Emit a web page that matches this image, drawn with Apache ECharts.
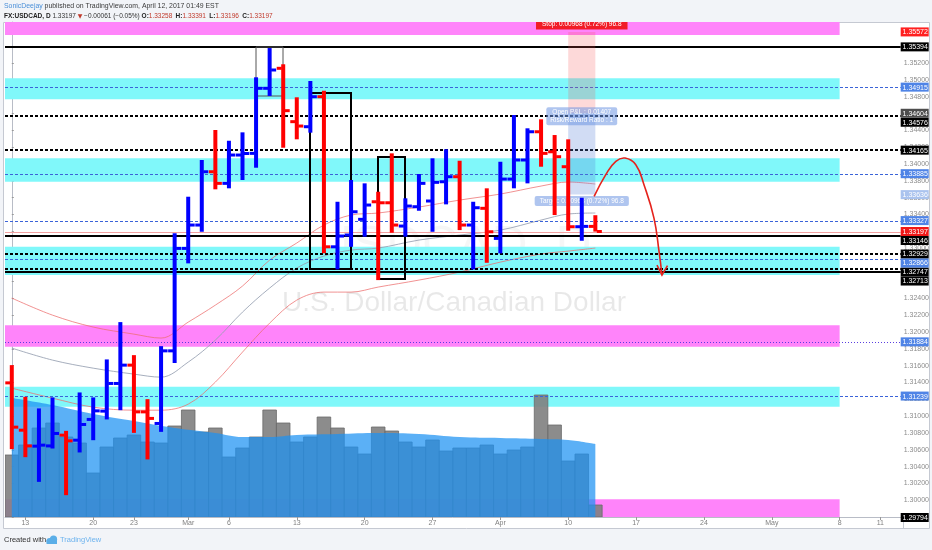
<!DOCTYPE html>
<html><head><meta charset="utf-8">
<script src="https://cdn.jsdelivr.net/npm/echarts@6/dist/echarts.min.js"></script>
<style>html,body{margin:0;padding:0;background:#f2f4f8;}#c{width:932px;height:550px;}</style>
</head><body><div id="c"></div>
<script>
// ---------- DATA ----------
const dates = ['2017-02-10',
 '2017-02-13','2017-02-14','2017-02-15','2017-02-16','2017-02-17',
 '2017-02-20','2017-02-21','2017-02-22','2017-02-23','2017-02-24',
 '2017-02-27','2017-02-28','2017-03-01','2017-03-02','2017-03-03',
 '2017-03-06','2017-03-07','2017-03-08','2017-03-09','2017-03-10',
 '2017-03-13','2017-03-14','2017-03-15','2017-03-16','2017-03-17',
 '2017-03-20','2017-03-21','2017-03-22','2017-03-23','2017-03-24',
 '2017-03-27','2017-03-28','2017-03-29','2017-03-30','2017-03-31',
 '2017-04-03','2017-04-04','2017-04-05','2017-04-06','2017-04-07',
 '2017-04-10','2017-04-11','2017-04-12','2017-04-13','2017-04-14',
 '2017-04-17','2017-04-18','2017-04-19','2017-04-20','2017-04-21',
 '2017-04-24','2017-04-25','2017-04-26','2017-04-27','2017-04-28',
 '2017-05-01','2017-05-02','2017-05-03','2017-05-04','2017-05-05',
 '2017-05-08','2017-05-09','2017-05-10','2017-05-11','2017-05-12'];
const tickDates = ['2017-02-13','2017-02-20','2017-02-23','2017-03-01','2017-03-06','2017-03-13','2017-03-20','2017-03-27','2017-04-03','2017-04-10','2017-04-17','2017-04-24','2017-05-01','2017-05-08','2017-05-11'];
const tickTexts = ['13','20','23','Mar','6','13','20','27','Apr','10','17','24','May','8','11'];

const opens  = [1.31396,1.30833,1.30643,1.30646,1.30774,1.30714,1.30961,1.31060,1.31389,1.31607,1.31051,1.30913,1.31777,1.32996,1.33274,1.33908,1.33770,1.34107,1.34127,1.34901,1.35139,1.34504,1.34444,1.34801,1.33015,1.33155,1.33342,1.33551,1.33539,1.33262,1.33492,1.33560,1.33789,1.33849,1.33274,1.33473,1.33115,1.33821,1.34048,1.34384,1.34146,1.33968,1.33254,1.33258];
const highs  = [1.31607,1.31230,1.31092,1.31223,1.30825,1.31282,1.31223,1.31675,1.32119,1.31726,1.31202,1.31833,1.33175,1.33611,1.34048,1.34405,1.34277,1.34377,1.35032,1.35380,1.35187,1.34794,1.34988,1.34873,1.33551,1.33810,1.33770,1.33670,1.34127,1.33592,1.33881,1.34068,1.34175,1.34039,1.33551,1.33711,1.34027,1.34583,1.34425,1.34532,1.34345,1.34294,1.33599,1.33391];
const lows   = [1.30607,1.30512,1.30218,1.30615,1.30060,1.30568,1.30714,1.30961,1.31071,1.30801,1.30485,1.30813,1.31631,1.32818,1.33194,1.33699,1.33711,1.33810,1.33956,1.34810,1.34194,1.34294,1.34373,1.32937,1.32746,1.33015,1.33135,1.32619,1.33182,1.33135,1.33444,1.33194,1.33520,1.33214,1.32746,1.32825,1.32937,1.33711,1.33770,1.33968,1.33393,1.33206,1.33087,1.33196];
const closes = [1.30869,1.30646,1.30655,1.30794,1.30706,1.30901,1.31063,1.31389,1.31607,1.31051,1.30973,1.31777,1.32996,1.33274,1.33908,1.33770,1.34107,1.34125,1.34901,1.35119,1.34635,1.34452,1.34801,1.33015,1.33143,1.33432,1.33512,1.33539,1.33274,1.33500,1.33770,1.33782,1.33849,1.33274,1.33480,1.33194,1.33821,1.34048,1.34384,1.34127,1.34087,1.33254,1.33258,1.33197];
const volumes = [62,72,89,94,80,74,44,70,79,82,75,74,91,107,85,89,60,69,80,107,94,75,80,100,89,70,63,90,86,75,70,77,66,69,69,72,63,67,70,122,92,56,63,12];

const volMaIdx = [0,3,6,9,12,15,17,19,21,24,27,30,33,36,39,41,43];
const volMa    = [119,112,103,96,89,84,80,80,82,83,84,83,80,79,78,77,73];

const maIdx  = [0,3,6,9,11,13,15,17,19,21,23,25,27,30,33,36,39,41,43];
const maFast = [1.32405,1.32202,1.32060,1.31976,1.31929,1.32119,1.32321,1.32548,1.32857,1.33060,1.33274,1.33393,1.33417,1.33488,1.33571,1.33643,1.33738,1.33786,1.33762];
const maMid  = [1.31810,1.31667,1.31571,1.31500,1.31464,1.31643,1.31905,1.32238,1.32524,1.32762,1.32905,1.32976,1.33000,1.33095,1.33155,1.33214,1.33333,1.33405,1.33417];
const maSlow = [1.31333,1.31214,1.31107,1.31071,1.31071,1.31143,1.31405,1.31762,1.32107,1.32381,1.32476,1.32476,1.32536,1.32619,1.32714,1.32833,1.32929,1.32964,1.33000];

const cyanZones = [[1.34770,1.35020],[1.33789,1.34068],[1.32679,1.33015],[1.31111,1.31349]];
const pinkZones = [[1.35536,1.35750],[1.31825,1.32083],[1.29750,1.30012]];
const zoneEndIdx = 61;

const blackSolidLevels  = [1.35394,1.33146,1.32713,1.29794];
const blackDashedLevels = [1.34576,1.34165,1.32929,1.32747];
const blueDashedLevels  = [1.34915,1.33885,1.33327,1.32866,1.31239];
const blueDottedLevels  = [1.31884];

const boxesThick = [[22,25,1.32758,1.34849],[27,29,1.32631,1.34080]];
const boxesThin  = [[18,20,1.34810,1.35394]];

const positionTool = [[41,43,1.33636,1.34604,1.35572]]; // start, end, target, entry, stop
const positionQty = '96.8';

const arrowX = [42.91,43.77,44.51,45.19,45.98,46.59,47.32,47.69,47.91];
const arrowY = [1.33615,1.33873,1.34032,1.34071,1.33992,1.33750,1.33357,1.32964,1.32679];

// ---------- HELPERS ----------
const FONT = 'Liberation Sans';
const last = closes.length - 1;
const lastClose = closes[last];
const chg = lastClose - closes[last-1];
const pos = positionTool[0];

const ohlcData = opens.map((o,i)=>[i,o,highs[i],lows[i],closes[i]]);

function levelSeries(levels, style, z){
  return {type:'custom', xAxisIndex:1, yAxisIndex:0, z:z, silent:true, clip:true,
    data: levels, encode:{y:0},
    renderItem:(params, api)=>{
      const cs = params.coordSys;
      let y = api.coord([0, api.value(0)])[1];
      if (style.lineWidth % 2 === 1) y = Math.round(y)+0.5; else y = Math.round(y);
      return {type:'line', shape:{x1:cs.x, y1:y, x2:cs.x+cs.width, y2:y},
        style:Object.assign({fill:null}, style)};
    }};
}
function zoneSeries(zones, color){
  return {type:'custom', xAxisIndex:1, yAxisIndex:0, z:1, silent:true, clip:true,
    data: zones, encode:{y:[0,1]},
    renderItem:(params, api)=>{
      const cs = params.coordSys;
      let yLo = api.coord([0, api.value(0)])[1];
      let yHi = api.coord([0, api.value(1)])[1];
      yHi = Math.max(yHi, cs.y); yLo = Math.min(yLo, cs.y+cs.height);
      const xR = api.coord([zoneEndIdx, 0])[0];
      return {type:'rect', shape:{x:cs.x, y:yHi, width:xR-cs.x, height:yLo-yHi}, style:{fill:color}};
    }};
}
function boxSeries(boxes, stroke, lw){
  return {type:'custom', xAxisIndex:1, yAxisIndex:0, z:6, silent:true, clip:true,
    data: boxes, encode:{x:[0,1], y:[2,3]},
    renderItem:(params, api)=>{
      const p1 = api.coord([api.value(0), api.value(3)]);
      const p2 = api.coord([api.value(1), api.value(2)]);
      return {type:'rect', shape:{x:Math.round(p1[0]), y:Math.round(p1[1]), width:Math.round(p2[0]-p1[0]), height:Math.round(p2[1]-p1[1])},
        style:{fill:null, stroke:stroke, lineWidth:lw}};
    }};
}
function maSeries(vals, color){
  return {type:'line', xAxisIndex:1, yAxisIndex:0, z:4, silent:true, smooth:0.35, showSymbol:false, symbol:'none',
    data: maIdx.map((x,k)=>[x, vals[k]]), lineStyle:{color:color, width:1}};
}

// price tags on the right scale
const tagList = []
  .concat(blackSolidLevels.map(p=>({p, bg:'#000000', fg:'#ffffff'})))
  .concat(blackDashedLevels.map(p=>({p, bg:'#000000', fg:'#ffffff'})))
  .concat(blueDashedLevels.map(p=>({p, bg:'#4f84e6', fg:'#ffffff'})))
  .concat(blueDottedLevels.map(p=>({p, bg:'#4f84e6', fg:'#ffffff'})))
  .concat([{p:pos[4], bg:'#ff2020', fg:'#ffffff'},{p:pos[3], bg:'#4d4d4d', fg:'#ffffff'},
           {p:pos[2], bg:'#aac3ee', fg:'#ffffff'},{p:lastClose, bg:'#f01818', fg:'#ffffff'}]);

const TAG_H = 9;
function tagLayout(api){
  const items = tagList.map((t,k)=>({k, y: api.coord([0,t.p])[1]}));
  items.sort((a,b)=>a.y-b.y);
  for (let i=1;i<items.length;i++){
    if (items[i].y < items[i-1].y + TAG_H) items[i].y = items[i-1].y + TAG_H;
  }
  const out = {}; items.forEach(it=>out[it.k]=it.y); return out;
}

// ---------- CHART ----------
const chart = echarts.init(document.getElementById('c'), null, {width:932, height:550});
const option = {
  animation:false,
  backgroundColor:'#f2f4f8',
  textStyle:{fontFamily:FONT},
  grid:{left:5, right:29, top:22, bottom:33},
  xAxis:[
    {type:'category', data:dates, boundaryGap:true,
     axisLine:{lineStyle:{color:'#b8bcc6'}},
     axisTick:{show:true, alignWithLabel:true, length:3, interval:(i,v)=>tickDates.indexOf(v)>=0, lineStyle:{color:'#999'}},
     axisLabel:{interval:(i,v)=>tickDates.indexOf(v)>=0, formatter:(v)=>tickTexts[tickDates.indexOf(v)],
                fontSize:7, color:'#808080', margin:3},
     splitLine:{show:false}},
    {type:'value', min:-0.5, max:65.5, show:false}
  ],
  yAxis:[
    {type:'value', position:'right', min:1.298, max:1.3569, interval:0.002, scale:true,
     splitLine:{show:false},
     axisLine:{show:true, lineStyle:{color:'#b8bcc6'}},
     axisTick:{show:true, length:2, lineStyle:{color:'#999'}},
     axisLabel:{fontSize:7, color:'#8c8c8c', margin:3, formatter:(v)=> v > 1.3555 ? '' : v.toFixed(5)}},
    {type:'value', min:0, max:495, show:false}
  ],
  graphic:{elements:[
    {type:'rect', z:-10, silent:true, shape:{x:3.5, y:22.5, width:926, height:506}, style:{fill:'#ffffff', stroke:'#c5c9d2', lineWidth:1}},
    {type:'line', z:-9, silent:true, shape:{x1:903.5, y1:517, x2:903.5, y2:528.5}, style:{stroke:'#c5c9d2', lineWidth:1}},
    {type:'text', z:-5, silent:true, style:{text:'USDCAD, D', x:454, y:247, textAlign:'center', textVerticalAlign:'middle', fontSize:50, fontFamily:FONT, fill:'rgba(0,0,0,0.035)'}},
    {type:'text', z:-5, silent:true, style:{text:'U.S. Dollar/Canadian Dollar', x:454, y:303, textAlign:'center', textVerticalAlign:'middle', fontSize:28, fontFamily:FONT, fill:'rgba(0,0,0,0.09)'}},
    {type:'text', silent:true, style:{x:4, y:6, textVerticalAlign:'middle',
      text:'{a|SonicDeejay}{b| published on TradingView.com, April 12, 2017 01:49 EST}',
      rich:{a:{fontSize:6.9, fontFamily:FONT, fill:'#4a8fd8'}, b:{fontSize:6.9, fontFamily:FONT, fill:'#3a3a3a'}}}},
    {type:'text', silent:true, style:{x:4, y:16, textVerticalAlign:'middle',
      text:'{k|FX:USDCAD, D}{n| '+lastClose.toFixed(5)+' }{r|\u25BC}{n| '+(chg<0?'\u2212':'+')+Math.abs(chg).toFixed(5)+' ('+(chg<0?'\u2212':'+')+Math.abs(chg/closes[last-1]*100).toFixed(2)+'%) }'+
           '{k|O:}{v|'+opens[last].toFixed(5)+'} {k|H:}{v|'+highs[last].toFixed(5)+'} {k|L:}{v|'+lows[last].toFixed(5)+'} {k|C:}{v|'+closes[last].toFixed(5)+'}',
      rich:{k:{fontSize:6.5, fontWeight:'bold', fontFamily:FONT, fill:'#222'},
            n:{fontSize:6.5, fontFamily:FONT, fill:'#333'},
            r:{fontSize:6, fontFamily:'DejaVu Sans', fill:'#c0392b'},
            v:{fontSize:6.5, fontFamily:FONT, fill:'#c0392b'}}}},
    {type:'text', silent:true, style:{text:'Created with', x:4, y:540, textVerticalAlign:'middle', fontSize:7.5, fontFamily:FONT, fill:'#333'}},
    {type:'circle', silent:true, shape:{cx:49.5, cy:541, r:3}, style:{fill:'#5aaee8'}},
    {type:'circle', silent:true, shape:{cx:53.5, cy:539.2, r:3.6}, style:{fill:'#5aaee8'}},
    {type:'rect', silent:true, shape:{x:46.5, y:540, width:10.5, height:4}, style:{fill:'#5aaee8'}},
    {type:'text', silent:true, style:{text:'TradingView', x:60, y:540, textVerticalAlign:'middle', fontSize:7.5, fontFamily:FONT, fill:'#6db3ee'}}
  ]},
  series:[
    zoneSeries(cyanZones, '#80f8fa'),
    zoneSeries(pinkZones, '#ff84fa'),
    // volume bars
    {type:'custom', xAxisIndex:1, yAxisIndex:1, z:2, silent:true, clip:true,
     data: volumes.map((v,i)=>[i,v]), encode:{x:0,y:1},
     renderItem:(params, api)=>{
       const i = api.value(0);
       const pL = api.coord([i-0.5, api.value(1)]);
       const pR = api.coord([i+0.5, 0]);
       return {type:'rect', shape:{x:pL[0], y:pL[1], width:pR[0]-pL[0], height:pR[1]-pL[1]},
         style:{fill:'rgba(128,128,128,0.9)', stroke:'#6a6a6a', lineWidth:0.8}};
     }},
    // volume moving average area
    {type:'line', xAxisIndex:1, yAxisIndex:1, z:3, silent:true, smooth:0.4, symbol:'none', showSymbol:false,
     data: volMaIdx.map((x,k)=>[x, volMa[k]]),
     lineStyle:{width:0}, areaStyle:{color:'rgba(28,146,242,0.72)', opacity:1}},
    maSeries(maSlow, 'rgba(236,110,110,0.75)'),
    maSeries(maMid, 'rgba(150,160,178,0.85)'),
    maSeries(maFast, 'rgba(236,110,110,0.75)'),
    levelSeries([lastClose], {stroke:'#f3a0a0', lineWidth:1}, 5),
    levelSeries(blueDashedLevels, {stroke:'#3b63d8', lineWidth:1, lineDash:[3,2]}, 5),
    levelSeries(blueDottedLevels, {stroke:'#5a3fe0', lineWidth:1, lineDash:[1,2]}, 5),
    levelSeries(blackDashedLevels, {stroke:'#000000', lineWidth:2, lineDash:[3,2]}, 5),
    levelSeries(blackSolidLevels, {stroke:'#000000', lineWidth:2}, 5),
    boxSeries(boxesThick, '#000000', 2),
    boxSeries(boxesThin, '#555555', 1),
    // position tool
    {type:'custom', xAxisIndex:1, yAxisIndex:0, z:7, silent:true, clip:true,
     data: positionTool, encode:{x:[0,1], y:[2,3,4]},
     renderItem:(params, api)=>{
       const s = api.value(0), e = api.value(1), tgt = api.value(2), en = api.value(3), st = api.value(4);
       const pS = api.coord([s, st]), pE = api.coord([e, en]), pT = api.coord([e, tgt]);
       const x0 = pS[0], x1 = pE[0], cx = (x0+x1)/2;
       const risk = st-en, reward = en-tgt;
       const stopTxt = 'Stop: '+risk.toFixed(5)+' ('+(risk/en*100).toFixed(2)+'%) '+positionQty;
       const tgtTxt = 'Target: '+reward.toFixed(5)+' ('+(reward/en*100).toFixed(2)+'%) '+positionQty;
       const pnlTxt = 'Open P&L : '+(en-lastClose).toFixed(5)+'\nRisk/Reward Ratio : '+(reward/risk).toFixed(0);
       return {type:'group', children:[
         {type:'rect', shape:{x:x0, y:pS[1], width:x1-x0, height:pE[1]-pS[1]}, style:{fill:'rgba(244,80,80,0.22)'}},
         {type:'rect', shape:{x:x0, y:pE[1], width:x1-x0, height:pT[1]-pE[1]}, style:{fill:'rgba(90,130,215,0.28)'}},
         {type:'text', style:{text:stopTxt, x:cx, y:pS[1]-8, textAlign:'center', textVerticalAlign:'middle', fontSize:6.5, fontFamily:FONT, fill:'#ffffff',
            backgroundColor:'rgba(240,20,20,0.92)', padding:[2,6,2,6]}},
         {type:'text', style:{text:pnlTxt, x:cx, y:pE[1]+3, textAlign:'center', textVerticalAlign:'middle', fontSize:6.5, lineHeight:7.5, fontFamily:FONT, fill:'#ffffff',
            backgroundColor:'rgba(110,150,225,0.55)', padding:[1.5,4,1.5,4], borderRadius:2}},
         {type:'text', style:{text:tgtTxt, x:cx, y:pT[1]+6.5, textAlign:'center', textVerticalAlign:'middle', fontSize:6.5, fontFamily:FONT, fill:'#ffffff',
            backgroundColor:'rgba(110,150,225,0.55)', padding:[1.5,5,1.5,5], borderRadius:2}}
       ]};
     }},
    // OHLC bars
    {type:'custom', xAxisIndex:1, yAxisIndex:0, z:8, silent:true, clip:true,
     data: ohlcData, encode:{x:0, y:[1,2,3,4]},
     renderItem:(params, api)=>{
       const i = api.value(0), o = api.value(1), h = api.value(2), l = api.value(3), c = api.value(4);
       const pH = api.coord([i,h]), pL = api.coord([i,l]), pO = api.coord([i,o]), pC = api.coord([i,c]);
       const col = c >= o ? '#0000ff' : '#ff0000';
       const x = pH[0];
       return {type:'group', children:[
         {type:'rect', shape:{x:x-2, y:pH[1], width:4, height:Math.max(1,pL[1]-pH[1])}, style:{fill:col}},
         {type:'rect', shape:{x:x-6.5, y:pO[1]-1.5, width:5, height:3}, style:{fill:col}},
         {type:'rect', shape:{x:x+1.5, y:pC[1]-1.5, width:5, height:3}, style:{fill:col}}
       ]};
     }},
    // forecast arrow
    {type:'custom', xAxisIndex:1, yAxisIndex:0, z:9, silent:true, clip:true,
     data: arrowX.map((x,k)=>[x, arrowY[k]]), encode:{x:0,y:1},
     renderItem:(params, api)=>{
       if (params.dataIndex !== 0) return null;
       const pts = arrowX.map((x,k)=>api.coord([x, arrowY[k]]));
       const tip = pts[pts.length-1];
       return {type:'group', children:[
         {type:'polyline', shape:{points:pts, smooth:0.45}, style:{stroke:'#e5231c', lineWidth:1.6, fill:null}},
         {type:'polyline', shape:{points:[[tip[0]-5,tip[1]-10],[tip[0],tip[1]],[tip[0]+5.5,tip[1]-9.5]]}, style:{stroke:'#e5231c', lineWidth:1.6, fill:null}}
       ]};
     }},
    // price tags on the scale
    {type:'custom', xAxisIndex:1, yAxisIndex:0, z:11, silent:true, clip:false,
     data: tagList.map(t=>t.p), encode:{y:0},
     renderItem:(params, api)=>{
       const cs = params.coordSys;
       const lay = tagLayout(api);
       const t = tagList[params.dataIndex];
       const y = lay[params.dataIndex];
       const x0 = cs.x + cs.width;
       return {type:'group', children:[
         {type:'rect', shape:{x:x0, y:y-TAG_H/2, width:28, height:TAG_H}, style:{fill:t.bg}},
         {type:'text', style:{text:t.p.toFixed(5), x:x0+14.5, y:y+0.5, textAlign:'center', textVerticalAlign:'middle', fontSize:7, fontFamily:FONT, fill:t.fg}}
       ]};
     }}
  ]
};
chart.setOption(option);
</script></body></html>
